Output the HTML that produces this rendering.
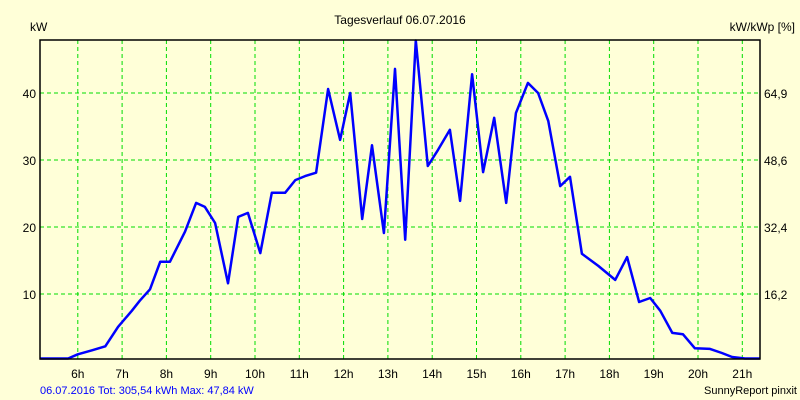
<!DOCTYPE html>
<html><head><meta charset="utf-8"><style>
html,body{margin:0;padding:0;background:#ffffd8;}
svg{display:block;font-family:"Liberation Sans",sans-serif;}
</style></head><body>
<svg width="800" height="400" id="chart">
<rect x="0" y="0" width="800" height="400" fill="#ffffd8"/>
<text x="400" y="24" font-size="12" text-anchor="middle">Tagesverlauf 06.07.2016</text>
<text x="30" y="31" font-size="12">kW</text>
<text x="795" y="31" font-size="12" text-anchor="end">kW/kWp [%]</text>
<g id="grid"></g>
<g id="ticks"></g>
<path id="line" fill="none" stroke="#0000ff" stroke-width="2.5" stroke-linejoin="round"/>
<rect x="40" y="40" width="720" height="319" fill="none" stroke="#000" stroke-width="1.5"/>
<text x="40" y="394" font-size="11" fill="#0000ff">06.07.2016 Tot: 305,54 kWh Max: 47,84 kW</text>
<text x="797" y="394" font-size="11" text-anchor="end">SunnyReport pinxit</text>
</svg>
<script>
const hours=[5.15,5.78,6.0,6.32,6.62,6.91,7.22,7.40,7.63,7.86,8.08,8.42,8.67,8.87,9.10,9.39,9.62,9.84,10.12,10.38,10.68,10.91,11.13,11.38,11.65,11.92,12.15,12.42,12.64,12.91,13.16,13.39,13.63,13.90,14.13,14.40,14.63,14.90,15.15,15.40,15.67,15.89,16.16,16.39,16.62,16.89,17.11,17.38,17.75,18.13,18.40,18.67,18.92,19.15,19.42,19.66,19.93,20.27,20.54,20.77,21.06,21.40];
const kw=[0.2,0.3,1.0,1.6,2.2,5.1,7.5,9.0,10.7,14.8,14.8,19.3,23.6,23.0,20.6,11.6,21.5,22.1,16.1,25.1,25.1,27.0,27.6,28.1,40.6,33.0,40.0,21.2,32.2,19.1,43.6,18.1,47.84,29.1,31.5,34.5,23.9,42.8,28.2,36.3,23.6,37.0,41.5,40.0,35.8,26.1,27.5,16.0,14.2,12.1,15.5,8.8,9.4,7.5,4.2,4.0,1.9,1.8,1.2,0.6,0.3,0.3];
const yTicks=[10,20,30,40];
const yTicksRight=["16,2","32,4","48,6","64,9"];
const xTicks=[6,7,8,9,10,11,12,13,14,15,16,17,18,19,20,21];
const NS="http://www.w3.org/2000/svg";
const X=h=>77.8+(h-6)*44.3;
const Y=v=>361-v*6.7;
const grid=document.getElementById('grid'),ticks=document.getElementById('ticks');
function mk(tag,attrs,parent,txt){const e=document.createElementNS(NS,tag);for(const k in attrs)e.setAttribute(k,attrs[k]);if(txt!=null)e.textContent=txt;parent.appendChild(e);return e;}
xTicks.forEach(h=>{
  const l=mk('line',{x1:X(h),x2:X(h),y1:40,y2:359,stroke:'#00dd00','stroke-dasharray':'4,3','stroke-width':1},grid);
  
  
  const t=mk('text',{x:X(h),y:378,'font-size':12,'text-anchor':'middle'},ticks,h+'h');
  
  
});
yTicks.forEach((v,i)=>{
  const l=mk('line',{x1:40,x2:760,y1:Y(v),y2:Y(v),stroke:'#00dd00','stroke-dasharray':'4,3','stroke-width':1},grid);
  
  
  const t=mk('text',{x:36,y:Y(v)+5,'font-size':12,'text-anchor':'end'},ticks,String(v));
  
  
  const r=mk('text',{x:764,y:Y(v)+5,'font-size':12},ticks,yTicksRight[i]);
  
  
});
document.getElementById('line').setAttribute('d',hours.map((h,i)=>(i?'L':'M')+X(h).toFixed(1)+','+Math.min(Y(kw[i]),358.5).toFixed(1)).join(''));
</script>
</body></html>
